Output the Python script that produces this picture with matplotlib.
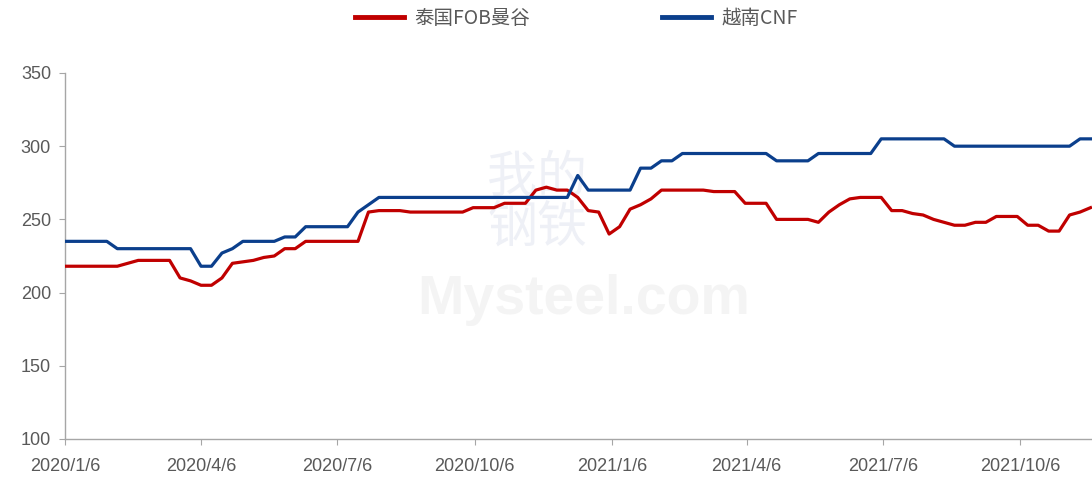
import matplotlib.pyplot as plt
import pandas as pd

plt.rcParams["font.family"] = ["Liberation Sans", "Noto Sans CJK SC", "DejaVu Sans"]

start_date = "2020-01-06"
n_weeks = 99

thai_fob = (
    [218] * 6 + [220] + [222] * 4 + [210, 208, 205, 205, 210, 220, 221, 222, 224, 225, 230, 230]
    + [235] * 6 + [255] + [256] * 3 + [255] * 6 + [258] * 3 + [261] * 3
    + [270, 272, 270, 270, 265, 256, 255, 240, 245, 257, 260, 264]
    + [270] * 5 + [269] * 3 + [261] * 3 + [250] * 4 + [248, 255, 260, 264]
    + [265] * 3 + [256, 256, 254, 253, 250, 248, 246, 246, 248, 248]
    + [252] * 3 + [246, 246, 242, 242, 253, 255, 258]
)
vietnam_cnf = (
    [235] * 5 + [230] * 8 + [218] * 2 + [227, 230] + [235] * 4 + [238] * 2
    + [245] * 5 + [255, 260] + [265] * 19 + [280] + [270] * 5 + [285] * 2
    + [290] * 2 + [295] * 9 + [290] * 4 + [295] * 6 + [305] * 7 + [300] * 12
    + [305] * 2
)
series_names = ["泰国FOB曼谷", "越南CNF"]
tick_dates = ["2020-01-06", "2020-04-06", "2020-07-06", "2020-10-06",
              "2021-01-06", "2021-04-06", "2021-07-06", "2021-10-06"]
y_ticks = [100, 150, 200, 250, 300, 350]

dates = pd.date_range(start_date, periods=n_weeks, freq="7D")
df = pd.DataFrame({"date": dates, "thai": thai_fob, "vn": vietnam_cnf})

fig = plt.figure(figsize=(10.92, 4.83), dpi=100)
ax = fig.add_axes([0.0595, 0.0911, 0.9405, 0.7578])

grey = "#595959"

# faint watermark
ax.text(0.505, 0.38, "Mysteel.com", transform=ax.transAxes, ha="center", va="center",
        fontsize=40, fontweight="bold", color="#f4f4f4", zorder=0)
ax.text(0.46, 0.645, "我的\n钢铁", transform=ax.transAxes, ha="center", va="center",
        fontsize=36, color="#eef0f6", family=["Noto Sans CJK SC"], zorder=0,
        linespacing=0.95)

ax.plot(df["date"], df["thai"], color="#C00000", lw=2.3, label=series_names[0], zorder=3)
ax.plot(df["date"], df["vn"], color="#0B3F8C", lw=2.3, label=series_names[1], zorder=3)

ax.set_ylim(100, 350)
ax.set_yticks(y_ticks)
ax.set_xlim(dates[0], dates[-1] + pd.Timedelta(days=1))
ticks = pd.to_datetime(tick_dates)
ax.set_xticks(ticks)
ax.set_xticklabels([f"{d.year}/{d.month}/{d.day}" for d in ticks])

for side in ["top", "right"]:
    ax.spines[side].set_visible(False)
for side in ["left", "bottom"]:
    ax.spines[side].set_color("#A6A6A6")
    ax.spines[side].set_linewidth(1.0)

ax.tick_params(axis="both", colors="#A6A6A6", labelcolor=grey, labelsize=13,
               length=4, direction="out")
ax.tick_params(axis="x", pad=10)
ax.tick_params(axis="y", pad=6)

leg = fig.legend(loc="upper center", bbox_to_anchor=(0.528, 1.02), ncol=2, frameon=False,
                 handlelength=2.5, columnspacing=6.8, handletextpad=0.55,
                 prop={"family": ["Noto Sans CJK SC", "DejaVu Sans"], "size": 14})
for t in leg.get_texts():
    t.set_color(grey)
for h in leg.get_lines():
    h.set_linewidth(3.5)

fig.savefig("out.png", dpi=100)
